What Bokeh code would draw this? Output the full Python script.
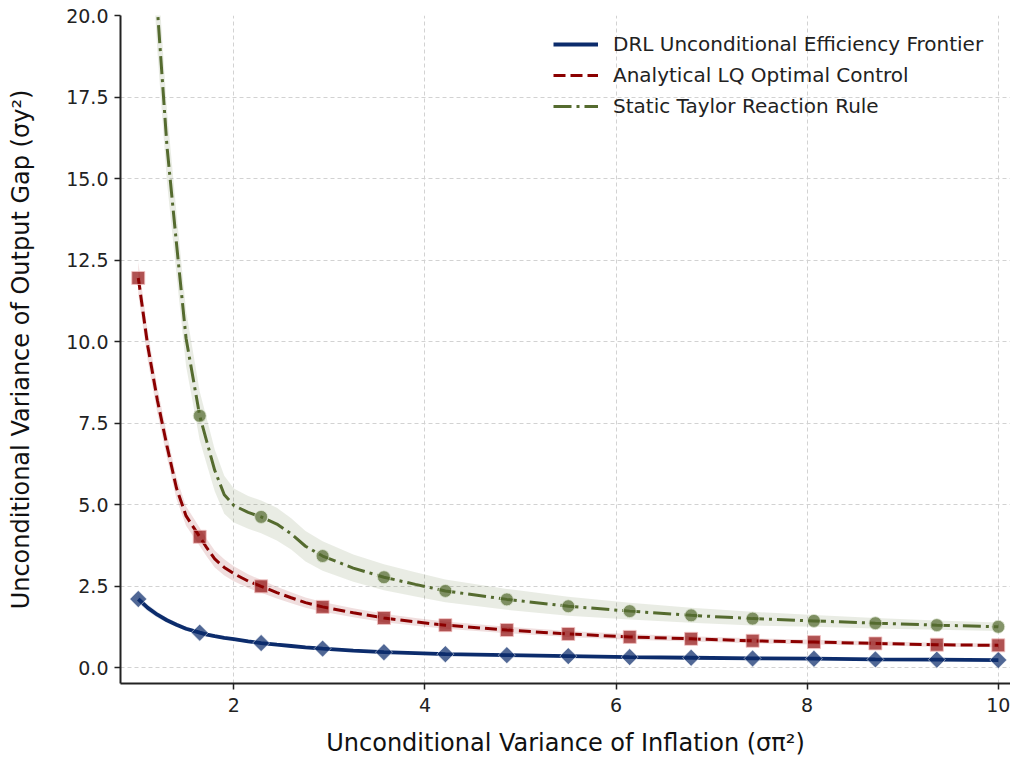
import math
from bokeh.plotting import figure
from bokeh.models import (Range1d, FixedTicker, NumeralTickFormatter, Legend,
                          LegendItem)
from bokeh.embed import file_html
from bokeh.resources import INLINE

# ---------------- data ----------------
series_names = ["DRL Unconditional Efficiency Frontier",
                "Analytical LQ Optimal Control",
                "Static Taylor Reaction Rule"]
x_title = "Unconditional Variance of Inflation (σπ²)"
y_title = "Unconditional Variance of Output Gap (σy²)"

line_x = [1.0, 1.1, 1.2, 1.3, 1.4, 1.5, 1.643, 1.72, 1.8, 1.9, 2.0, 2.15, 2.286,
          2.45, 2.6, 2.75, 2.929, 3.25, 3.571, 3.9, 4.214, 4.857, 5.5, 6.143,
          6.786, 7.429, 8.071, 8.714, 9.357, 10.0]
drl_line = [2.10, 1.83, 1.62, 1.45, 1.31, 1.19, 1.07, 1.01, 0.96, 0.91, 0.87,
            0.80, 0.75, 0.70, 0.66, 0.62, 0.58, 0.52, 0.47, 0.44, 0.41, 0.38,
            0.35, 0.32, 0.30, 0.28, 0.27, 0.25, 0.24, 0.23]
lq_line = [11.95, 9.85, 8.2, 6.8, 5.5, 4.65, 4.01, 3.66, 3.33, 3.07, 2.88, 2.65,
           2.49, 2.30, 2.14, 1.99, 1.86, 1.68, 1.52, 1.40, 1.30, 1.15, 1.03,
           0.94, 0.88, 0.82, 0.78, 0.74, 0.70, 0.68]
taylor_line = [33.0, 25.5, 20.2, 16.0, 13.0, 10.1, 7.72, 6.9, 6.05, 5.3, 4.97,
               4.76, 4.62, 4.40, 4.10, 3.72, 3.42, 3.05, 2.77, 2.55, 2.35, 2.09,
               1.88, 1.73, 1.60, 1.50, 1.43, 1.36, 1.30, 1.25]

drl_band = [0.12, 0.10, 0.09, 0.08, 0.07, 0.065, 0.06, 0.055, 0.05, 0.05,
            0.045, 0.045, 0.04, 0.04, 0.035, 0.035, 0.03, 0.03, 0.03, 0.03,
            0.025, 0.025, 0.02, 0.02, 0.02, 0.02, 0.02, 0.02, 0.02, 0.02]
lq_band = [0.5, 0.45, 0.4, 0.36, 0.33, 0.3, 0.28, 0.27, 0.26, 0.25,
           0.23, 0.21, 0.20, 0.18, 0.17, 0.16, 0.15, 0.14, 0.13, 0.12,
           0.11, 0.10, 0.09, 0.085, 0.08, 0.075, 0.07, 0.065, 0.06, 0.06]
taylor_band = [2.0, 1.6, 1.3, 1.1, 0.95, 0.85, 0.75, 0.7, 0.64, 0.58,
               0.52, 0.50, 0.50, 0.50, 0.48, 0.47, 0.45, 0.42, 0.40, 0.37,
               0.35, 0.32, 0.29, 0.26, 0.23, 0.21, 0.18, 0.16, 0.14, 0.13]

marker_x = [1.0, 1.643, 2.286, 2.929, 3.571, 4.214, 4.857, 5.5, 6.143, 6.786,
            7.429, 8.071, 8.714, 9.357, 10.0]
drl_pts = [2.10, 1.07, 0.75, 0.58, 0.47, 0.41, 0.38, 0.35, 0.32, 0.30, 0.28,
           0.27, 0.25, 0.24, 0.23]
lq_pts = [11.95, 4.01, 2.49, 1.86, 1.52, 1.30, 1.15, 1.03, 0.94, 0.88, 0.82,
          0.78, 0.74, 0.70, 0.68]
taylor_pts = [33.0, 7.72, 4.62, 3.42, 2.77, 2.35, 2.09, 1.88, 1.73, 1.60, 1.50,
              1.43, 1.36, 1.30, 1.25]

x_ticks = [2, 4, 6, 8, 10]
y_ticks = [0.0, 2.5, 5.0, 7.5, 10.0, 12.5, 15.0, 17.5, 20.0]

# ---------------- styling ----------------
BLUE = "#0c2c6c"
RED = "#8b0000"
GREEN = "#556b2f"
FONT = "DejaVu Sans"

p = figure(width=1010, height=761,
           x_range=Range1d(0.814, 10.128), y_range=Range1d(-0.49, 20.0),
           output_backend="svg", toolbar_location=None,
           min_border_left=120, min_border_top=15, min_border_right=0,
           min_border_bottom=78)
p.outline_line_color = None
p.background_fill_color = "white"
p.border_fill_color = "white"

# bands
for ys, band, col in [(drl_line, drl_band, BLUE), (lq_line, lq_band, RED),
                      (taylor_line, taylor_band, GREEN)]:
    lo = [y - b for y, b in zip(ys, band)]
    hi = [y + b for y, b in zip(ys, band)]
    p.varea(x=line_x, y1=lo, y2=hi, fill_color=col, fill_alpha=0.13)

# lines
r_drl = p.line(line_x, drl_line, line_color=BLUE, line_width=3.8)
r_lq = p.line(line_x, lq_line, line_color=RED, line_width=3, line_dash="12 5")
r_tay = p.line(line_x, taylor_line, line_color=GREEN, line_width=3,
               line_dash="18 5 3 5")

# markers
p.scatter(marker_x, drl_pts, marker="square", angle=math.pi / 4, size=12,
          fill_color=BLUE, fill_alpha=0.72, line_color="white", line_alpha=0.5,
          line_width=1)
p.scatter(marker_x, lq_pts, marker="square", size=13,
          fill_color=RED, fill_alpha=0.68, line_color="#f3c4c4", line_alpha=0.8,
          line_width=1)
p.scatter(marker_x, taylor_pts, marker="circle", size=13,
          fill_color=GREEN, fill_alpha=0.72, line_color="#dfe6d4", line_alpha=0.8,
          line_width=1)

# axes
for ax in (p.xaxis[0], p.yaxis[0]):
    ax.axis_line_color = "#222222"
    ax.axis_line_width = 2
    ax.major_tick_line_color = "#222222"
    ax.major_tick_line_width = 1.5
    ax.major_tick_out = 6
    ax.major_tick_in = 0
    ax.minor_tick_line_color = None
    ax.major_label_text_font = FONT
    ax.major_label_text_font_size = "19px"
    ax.major_label_text_color = "#222222"
    ax.axis_label_text_font = FONT
    ax.axis_label_text_font_size = "24px"
    ax.axis_label_text_font_style = "normal"
    ax.axis_label_text_color = "#111111"
p.xaxis.ticker = FixedTicker(ticks=x_ticks)
p.yaxis.ticker = FixedTicker(ticks=y_ticks)
p.yaxis.formatter = NumeralTickFormatter(format="0.0")
p.xaxis.major_label_standoff = 8
p.yaxis.major_label_standoff = 6
p.xaxis.axis_label = x_title
p.yaxis.axis_label = y_title
p.xaxis.axis_label_standoff = 14
p.yaxis.axis_label_standoff = 28

p.grid.grid_line_color = "#d2d2d2"
p.grid.grid_line_dash = "4 3"
p.grid.grid_line_width = 1

# legend (location = bottom-left corner, screen px from frame bottom-left)
legend = Legend(items=[LegendItem(label=series_names[0], renderers=[r_drl]),
                       LegendItem(label=series_names[1], renderers=[r_lq]),
                       LegendItem(label=series_names[2], renderers=[r_tay])],
                location=(428, 560))
legend.label_text_font = FONT
legend.label_text_font_size = "20px"
legend.label_text_color = "#222222"
legend.glyph_width = 45
legend.glyph_height = 24
legend.label_height = 24
legend.label_standoff = 15
legend.spacing = 7
legend.padding = 5
legend.margin = 0
legend.border_line_alpha = 0
legend.background_fill_alpha = 0
p.add_layout(legend)

open("out.html", "w").write(file_html(p, INLINE))
